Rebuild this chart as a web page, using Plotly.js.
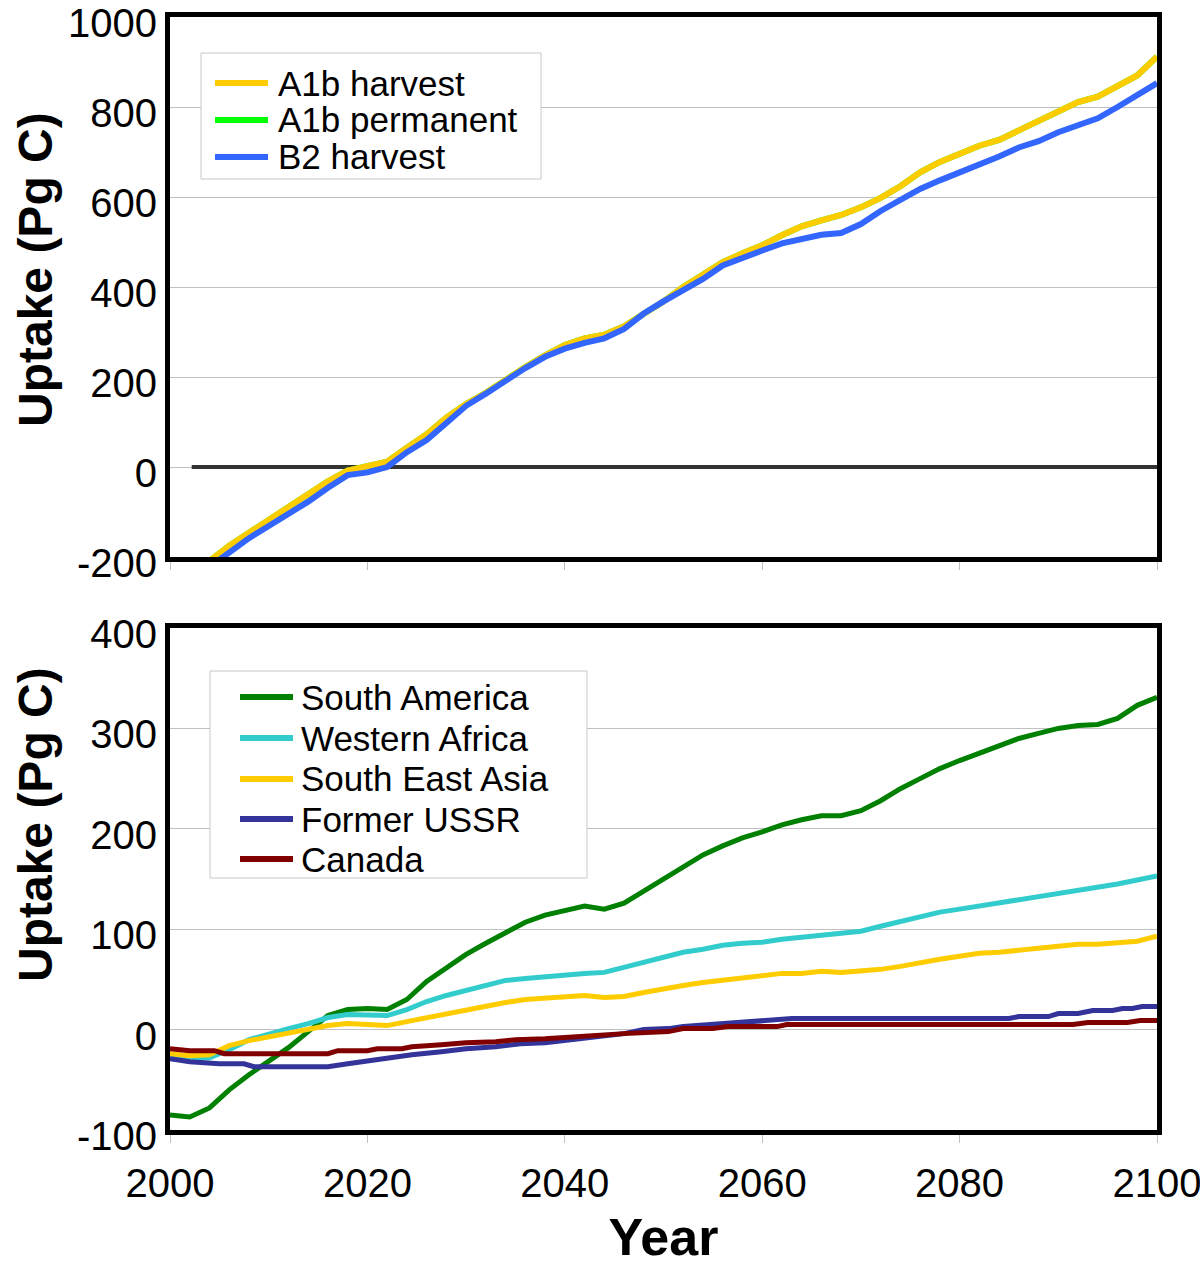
<!DOCTYPE html>
<html>
<head>
<meta charset="utf-8">
<script src="https://cdn.plot.ly/plotly-3.0.1.min.js"></script>
<style>
  html, body { margin: 0; padding: 0; background: #fff; }
  #chart { width: 1200px; height: 1266px; }
</style>
</head>
<body>
<div id="chart"></div>
<script>
// top panel: global uptake, years every 2 from 2004
const topYears = [2004, 2006, 2008, 2010, 2012, 2014, 2016, 2018, 2020, 2022,
  2024, 2026, 2028, 2030, 2032, 2034, 2036, 2038, 2040, 2042, 2044, 2046, 2048,
  2050, 2052, 2054, 2056, 2058, 2060, 2062, 2064, 2066, 2068, 2070, 2072, 2074,
  2076, 2078, 2080, 2082, 2084, 2086, 2088, 2090, 2092, 2094, 2096, 2098, 2100];
const a1bHarvest = [-209, -175, -146, -117, -91, -63, -32, -8, 1, 12,
  43, 73, 110, 140, 165, 195, 222, 248, 271, 286, 294, 313, 341,
  368, 400, 427, 455, 475, 493, 515, 535, 548, 560, 577, 598, 624,
  655, 678, 696, 714, 727, 748, 772, 792, 811, 823, 846, 870, 912];
// hidden under the A1b harvest line in the picture
const a1bPermanent = [-209, -175, -146, -117, -91, -63, -32, -8, 1, 12,
  43, 73, 110, 140, 165, 195, 222, 248, 271, 286, 294, 313, 341,
  368, 400, 427, 455, 475, 493, 515, 535, 548, 560, 577, 598, 624,
  655, 678, 696, 714, 727, 748, 772, 792, 811, 823, 846, 870, 912];
const b2Harvest = [-222, -189, -158, -131, -104, -77, -46, -18, -12, 0,
  33, 60, 98, 136, 163, 193, 220, 245, 263, 276, 286, 307, 341,
  368, 393, 418, 448, 466, 481, 497, 508, 516, 520, 540, 569, 592,
  618, 637, 655, 670, 690, 710, 724, 744, 758, 775, 800, 827, 853];

// bottom panel: regional uptake
const regionYears = [2000, 2002, 2004, 2006, 2008, 2010, 2012, 2014, 2016, 2018,
  2020, 2022, 2024, 2026, 2028, 2030, 2032, 2034, 2036, 2038, 2040, 2042, 2044,
  2046, 2048, 2050, 2052, 2054, 2056, 2058, 2060, 2062, 2064, 2066, 2068, 2070,
  2072, 2074, 2076, 2078, 2080, 2082, 2084, 2086, 2088, 2090, 2092, 2094, 2096,
  2098, 2100];
const southAmerica = [-85, -87, -78, -60, -45, -31, -18, -2, 14, 20,
  21, 20, 30, 48, 62, 75, 86, 97, 107, 114, 119, 123, 120,
  126, 138, 150, 162, 174, 183, 191, 197, 204, 209, 213, 213, 218,
  228, 240, 250, 260, 268, 275, 283, 290, 295, 300, 303, 304, 310,
  323, 331];
const westernAfrica = [-27, -29, -28, -20, -10, -4, 1, 6, 12, 15,
  15, 14, 20, 28, 34, 39, 44, 49, 51, 53, 55, 56, 57,
  62, 67, 72, 77, 80, 84, 86, 87, 90, 92, 95, 97, 98,
  103, 108, 113, 117, 120, 123, 126, 129, 132, 135, 138, 141, 145,
  149, 153];
const southEastAsia = [-24, -26, -25, -16, -11, -7, -3, 1, 4, 6,
  5, 4, 8, 12, 15, 19, 23, 27, 30, 31, 32, 34, 32,
  33, 37, 41, 44, 47, 49, 51, 53, 56, 56, 58, 57, 58,
  60, 63, 67, 70, 73, 76, 77, 79, 81, 83, 85, 85, 86,
  88, 93];
const ussrYears = [2000, 2002, 2005, 2007.5, 2008.5, 2016, 2018, 2020, 2022, 2024.5,
  2027.5, 2030, 2033, 2035.5, 2038, 2041, 2043.5, 2046, 2048, 2050.5, 2052, 2055,
  2056.5, 2061, 2063, 2085, 2086, 2089, 2090, 2092, 2093.5, 2095.5, 2096.5, 2097.5,
  2098.5, 2100];
const formerUSSR = [-29, -32, -34, -34, -37, -37, -34, -31, -29, -25,
  -22, -19, -17, -14, -13, -10, -7, -4, 0, 1, 3, 5,
  7, 9, 11, 11, 13, 13, 16, 16, 19, 19, 21, 21,
  23, 23];
const canadaYears = [2000, 2002, 2004.5, 2005.5, 2016, 2017, 2020, 2021, 2023.5, 2024.5,
  2027.5, 2030, 2033, 2035, 2038, 2041, 2043.5, 2046, 2050.5, 2052, 2055, 2056.5,
  2061.5, 2062.5, 2091.5, 2093, 2097, 2098.3, 2100];
const canada = [-19, -21, -21, -24, -24, -21, -21, -19, -19, -17,
  -15, -13, -12, -10, -9, -7, -5, -4, -2, 1, 1, 3,
  3, 5, 5, 7, 7, 9, 9];

// tick labels (hyphen minus like the original)
const yearTicks = [2000, 2020, 2040, 2060, 2080, 2100];
const topTickVals = [-200, 0, 200, 400, 600, 800, 1000];
const topTickText = ["-200", "0", "200", "400", "600", "800", "1000"];
const botTickVals = [-100, 0, 100, 200, 300, 400];
const botTickText = ["-100", "0", "100", "200", "300", "400"];

const FONT = "Liberation Sans, Arial, sans-serif";

// plot area in pixels: left 170, right 1157, top 17, bottom 1130
const px = (x) => (x - 170) / 987;
const py = (y) => (1130 - y) / 1113;

function line(x, y, name, color, xa, ya, width) {
  return {
    x: x, y: y, name: name, type: "scatter", mode: "lines",
    xaxis: xa, yaxis: ya, showlegend: false,
    line: { color: color, width: width },
    hoverinfo: "skip",
  };
}

const tHarvest = line(topYears, a1bHarvest, "A1b harvest", "#ffcc00", "x", "y", 6);
const tPermanent = line(topYears, a1bPermanent, "A1b permanent", "#00ff00", "x", "y", 6);
const tB2 = line(topYears, b2Harvest, "B2 harvest", "#3366ff", "x", "y", 6);
const topLegend = [tHarvest, tPermanent, tB2];
const topDrawn = [tPermanent, tHarvest, tB2];

const botTraces = [
  line(regionYears, southAmerica, "South America", "#008000", "x2", "y2", 5),
  line(regionYears, westernAfrica, "Western Africa", "#33cccc", "x2", "y2", 5),
  line(regionYears, southEastAsia, "South East Asia", "#ffcc00", "x2", "y2", 5),
  line(ussrYears, formerUSSR, "Former USSR", "#333399", "x2", "y2", 5),
  line(canadaYears, canada, "Canada", "#800000", "x2", "y2", 5),
];

const shapes = [{
  type: "line", xref: "x", yref: "y", x0: 2002.2, x1: 2100, y0: 0, y1: 0,
  line: { color: "#333", width: 4 }, layer: "between",
}];
const annotations = [];

// legend boxes drawn by hand so the row spacing matches the original
function legendBox(list, box, rows, sx0, sx1, tx) {
  shapes.push({
    type: "rect", xref: "paper", yref: "paper",
    x0: px(box[0]), x1: px(box[2]), y0: py(box[3]), y1: py(box[1]),
    fillcolor: "#fff", line: { color: "#c8c8c8", width: 1 }, layer: "above",
  });
  list.forEach((t, i) => {
    shapes.push({
      type: "line", xref: "paper", yref: "paper",
      x0: px(sx0), x1: px(sx1), y0: py(rows[i]), y1: py(rows[i]),
      line: { color: t.line.color, width: 6 }, layer: "above",
    });
    annotations.push({
      text: t.name, xref: "paper", yref: "paper", x: px(tx), y: py(rows[i]),
      xanchor: "left", yanchor: "middle", showarrow: false,
      font: { size: 35, family: FONT, color: "#000" },
    });
  });
}
legendBox(topLegend, [201, 53, 541, 179], [83, 120, 157], 215, 268, 276);
legendBox(botTraces, [210, 671, 587, 878], [697, 738, 779, 819, 859], 240, 293, 299);

["Uptake (Pg C)", "Uptake (Pg C)"].forEach((txt, i) => {
  annotations.push({
    text: "<b>" + txt + "</b>", xref: "paper", yref: "paper",
    x: px(35), y: py(i === 0 ? 270 : 825), textangle: -90,
    xanchor: "center", yanchor: "middle", showarrow: false,
    font: { size: 48, family: FONT, color: "#000" },
  });
});

const frame = { showline: true, mirror: true, linecolor: "#000", linewidth: 5 };

const xBase = Object.assign({
  range: [2000, 2100], tickvals: yearTicks, showgrid: false, zeroline: false,
  ticks: "outside", ticklen: 8, tickcolor: "#c0c0c0", tickwidth: 1,
}, frame);

const yBase = Object.assign({
  showgrid: true, gridcolor: "#c0c0c0", gridwidth: 1, zeroline: false,
  ticks: "", tickfont: { size: 40 }, ticklabeloverflow: "allow",
  ticklabelshift: 6,
}, frame);

const layout = {
  width: 1200, height: 1266,
  margin: { l: 170, r: 43, t: 17, b: 136 },
  paper_bgcolor: "#fff", plot_bgcolor: "#fff",
  font: { family: FONT, size: 40, color: "#000" },
  showlegend: false,
  xaxis: Object.assign({}, xBase, { domain: [0, 1], anchor: "y", showticklabels: false }),
  yaxis: Object.assign({}, yBase, {
    domain: [0.5148, 1], anchor: "x", range: [-200, 1000],
    tickvals: topTickVals, ticktext: topTickText,
  }),
  xaxis2: Object.assign({}, xBase, {
    domain: [0, 1], anchor: "y2", tickfont: { size: 40 }, ticklabelstandoff: 6,
    ticklabeloverflow: "allow",
    title: { text: "Year", font: { size: 52, family: FONT, weight: "bold" }, standoff: 16 },
  }),
  yaxis2: Object.assign({}, yBase, {
    domain: [0, 0.451], anchor: "x2", range: [-100, 400],
    tickvals: botTickVals, ticktext: botTickText,
  }),
  shapes: shapes,
  annotations: annotations,
};

Plotly.newPlot("chart", topDrawn.concat(botTraces), layout, { staticPlot: true });
</script>
</body>
</html>
